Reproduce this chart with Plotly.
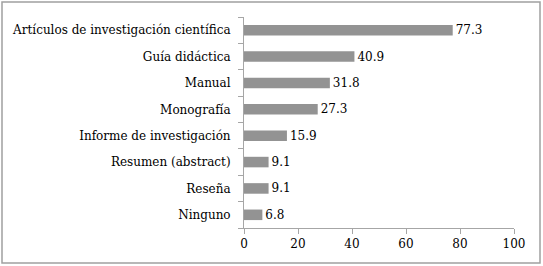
import plotly.graph_objects as go

categories = ["Artículos de investigación científica", "Guía didáctica", "Manual",
              "Monografía", "Informe de investigación", "Resumen (abstract)",
              "Reseña", "Ninguno"]
values = [77.3, 40.9, 31.8, 27.3, 15.9, 9.1, 9.1, 6.8]
x_ticks = [0, 20, 40, 60, 80, 100]

W, H = 543, 266
L, R, T, B = 244, 29, 17, 38
pw, ph = W - L - R, H - T - B
FONT = "DejaVu Serif"
FS = 12

fig = go.Figure(go.Bar(
    x=values, y=categories, orientation="h",
    marker=dict(color="#939393", line=dict(width=0)),
    text=[f"{v:.1f}" for v in values], textposition="outside",
    textfont=dict(family=FONT, size=FS, color="#000000"),
    constraintext="none", cliponaxis=False, width=0.4,
))

line_col = "#a6a6a6"
fig.update_layout(
    template="none",
    width=W, height=H, margin=dict(l=L, r=R, t=T, b=B, autoexpand=False),
    paper_bgcolor="white", plot_bgcolor="white",
    font=dict(family=FONT, size=FS, color="#000000"),
    showlegend=False,
    xaxis=dict(range=[0, 100], tickvals=x_ticks, showgrid=False, zeroline=False,
               automargin=False,
               showline=True, linecolor=line_col, linewidth=1,
               ticks="outside", ticklen=5, tickcolor=line_col,
               tickfont=dict(family=FONT, size=FS)),
    yaxis=dict(categoryorder="array", categoryarray=categories[::-1],
               range=[-0.5, len(categories) - 0.5], automargin=False,
               showgrid=False, zeroline=False, showline=True, linecolor=line_col,
               linewidth=1, ticks="outside", ticklen=5, tickcolor=line_col,
               tickson="boundaries", ticklabelstandoff=10,
               tickfont=dict(family=FONT, size=FS)),
    shapes=[dict(type="rect", xref="paper", yref="paper",
                 x0=(2 - L) / pw, x1=(540 - L) / pw,
                 y0=(H - B - 263) / ph, y1=(H - B - 2) / ph,
                 line=dict(color="#a0a0a0", width=1.5), fillcolor="rgba(0,0,0,0)",
                 layer="below")],
)

fig.write_html("out.html", config={"displayModeBar": False},
               post_script="document.body.style.margin='0';document.body.style.padding='0';")
